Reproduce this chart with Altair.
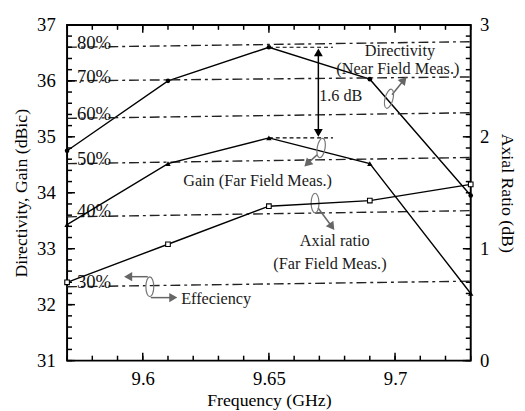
import altair as alt
import pandas as pd

# ---------------- data ----------------
freq = [9.57, 9.61, 9.65, 9.69, 9.73]
directivity = [34.75, 36.00, 36.60, 36.03, 33.95]
gain = [33.43, 34.52, 34.98, 34.52, 32.20]
axial_ratio = [0.70, 1.04, 1.38, 1.43, 1.575]

eff_labels = ["80%", "70%", "60%", "50%", "40%", "30%"]
eff_start = [36.60, 36.00, 35.33, 34.52, 33.57, 32.32]
eff_end = [36.70, 36.07, 35.43, 34.63, 33.68, 32.42]
eff_label_v = [36.683, 36.067, 35.408, 34.607, 33.674, 32.407]

x_tick_labels = [9.6, 9.65, 9.7]
left_tick_labels = [31, 32, 33, 34, 35, 36, 37]
right_tick_labels = [0, 1, 2, 3]

ann_text = ["Directivity", "(Near Field Meas.)", "1.6 dB", "Gain (Far Field Meas.)",
            "Axial ratio", "(Far Field Meas.)", "Effeciency"]
ann_f = [9.7019, 9.7011, 9.6785, 9.6455, 9.6761, 9.6742, 9.6291]
ann_v = [36.525, 36.208, 35.733, 34.202, 33.129, 32.724, 32.108]

# ---------------- layout / style ----------------
W, H = 410, 341
FONT = "'Liberation Serif', 'Times New Roman', Times, serif"
xs = alt.Scale(domain=[9.57, 9.73], nice=False, zero=False)
yl = alt.Scale(domain=[31, 37], nice=False, zero=False)
yr = alt.Scale(domain=[0, 3], nice=False, zero=False)
ELLIPSE = "M0,-1A0.4,1,0,1,1,0,1A0.4,1,0,1,1,0,-1Z"

series = pd.DataFrame({"f": freq, "d": directivity, "g": gain, "ar": axial_ratio})

x_axis = alt.Axis(values=x_tick_labels, format="~g", ticks=False, domain=False, grid=False,
                  labelFontSize=19, labelFont=FONT, labelColor="black", labelPadding=9,
                  title="Frequency (GHz)", titleFont=FONT, titleFontSize=18,
                  titleFontWeight="normal", titleColor="black", titlePadding=4)
yl_axis = alt.Axis(orient="left", values=left_tick_labels, format="d", ticks=False, domain=False,
                   grid=False, labelFontSize=19, labelFont=FONT, labelColor="black", labelPadding=12,
                   title="Directivity, Gain (dBic)", titleFont=FONT, titleFontSize=18,
                   titleFontWeight="normal", titleColor="black", titlePadding=6)
yr_axis = alt.Axis(orient="right", values=right_tick_labels, format="d", ticks=False,
                   domain=False, grid=False, labelFontSize=19, labelFont=FONT,
                   labelColor="black", labelPadding=9,
                   title="Axial Ratio (dB)", titleFont=FONT, titleFontSize=18,
                   titleFontWeight="normal", titleColor="black", titlePadding=9)


def X(fld="f"):
    return alt.X(f"{fld}:Q", scale=xs, axis=x_axis)


def YL(fld="v"):
    return alt.Y(f"{fld}:Q", scale=yl, axis=yl_axis)


def YR(fld="v"):
    return alt.Y(f"{fld}:Q", scale=yr, axis=yr_axis)


# efficiency dash-dot lines
eff_rows = []
for lab, a, b in zip(eff_labels, eff_start, eff_end):
    eff_rows.append({"lab": lab, "f": freq[0], "v": a})
    eff_rows.append({"lab": lab, "f": freq[-1], "v": b})
eff_df = pd.DataFrame(eff_rows)
eff_lines = alt.Chart(eff_df).mark_line(strokeDash=[10, 4, 3, 4], strokeWidth=1.4, color="#222").encode(
    x=X(), y=YL(), detail="lab:N")
eff_text = alt.Chart(pd.DataFrame({"lab": eff_labels, "v": eff_label_v, "f": [9.5739] * 6})).mark_text(
    align="left", baseline="middle", font=FONT, fontSize=19, color="#111").encode(
    x=X(), y=YL(), text="lab:N")

dir_line = alt.Chart(series).mark_line(color="black", strokeWidth=1.4).encode(x=X(), y=YL("d"))
dir_pts = alt.Chart(series).mark_point(shape="circle", filled=True, size=22, color="black", opacity=1).encode(
    x=X(), y=YL("d"))
gain_line = alt.Chart(series).mark_line(color="black", strokeWidth=1.4).encode(x=X(), y=YL("g"))
gain_pts = alt.Chart(series).mark_point(shape="triangle-up", filled=True, size=30, color="black", opacity=1).encode(
    x=X(), y=YL("g"))

# annotations
ann = alt.Chart(pd.DataFrame({"t": ann_text, "f": ann_f, "v": ann_v})).mark_text(
    font=FONT, fontSize=16.5, color="#1a1a1a", baseline="middle", align="center").encode(
    x=X(), y=YL(), text="t:N")

dash_df = pd.DataFrame({"f": [9.65, 9.65], "f2": [9.6754, 9.6754], "v": [36.6, 34.98]})
dashes = alt.Chart(dash_df).mark_rule(strokeDash=[4, 3], strokeWidth=1.2, color="black").encode(
    x=X(), x2="f2:Q", y=YL())

dbl = alt.Chart(pd.DataFrame({"f": [9.6696], "v": [36.52], "v2": [35.06]})).mark_rule(
    color="black", strokeWidth=1.5).encode(x=X(), y=YL(), y2="v2:Q")

arrow_df = pd.DataFrame({
    "f": [9.6988, 9.6691, 9.6695, 9.6020, 9.6032],
    "v": [35.751, 34.677, 33.727, 32.50, 32.126],
    "f2": [9.7035, 9.6652, 9.6750, 9.5942, 9.6121],
    "v2": [36.015, 34.519, 33.393, 32.50, 32.126],
})
arrow_lines = alt.Chart(arrow_df).mark_rule(color="#666", strokeWidth=1.5).encode(
    x=X(), y=YL(), x2="f2:Q", y2="v2:Q")

heads_df = pd.DataFrame({
    "f": [9.7035, 9.6652, 9.6750, 9.5942, 9.6121],
    "v": [36.015, 34.519, 33.393, 32.50, 32.126],
    "a": [40, 225, 144, 270, 90],
})
heads = alt.Chart(heads_df).mark_point(shape="triangle-up", filled=True, size=90, color="#666", opacity=1).encode(
    x=X(), y=YL(), angle=alt.Angle("a:Q", scale=None))
bheads_df = pd.DataFrame({"f": [9.6696, 9.6696], "v": [36.51, 35.07], "a": [0, 180]})
bheads = alt.Chart(bheads_df).mark_point(shape="triangle-up", filled=True, size=80, color="black", opacity=1).encode(
    x=X(), y=YL(), angle=alt.Angle("a:Q", scale=None))

ell_df = pd.DataFrame({"f": [9.6976, 9.6707, 9.6683, 9.6028],
                       "v": [35.68, 34.80, 33.815, 32.32],
                       "a": [15, 10, 0, 0]})
ellipses = alt.Chart(ell_df).mark_point(shape=ELLIPSE, size=400, filled=False, color="#777",
                                        strokeWidth=1.2, opacity=1).encode(
    x=X(), y=YL(), angle=alt.Angle("a:Q", scale=None))

# inward ticks
left_minor = [round(31 + 0.2 * i, 2) for i in range(31)]
right_minor = [round(0.1 * i, 2) for i in range(31)]
x_minor = [round(9.57 + 0.01 * i, 2) for i in range(17)]

lt_min = alt.Chart(pd.DataFrame({"v": left_minor})).mark_rule(color="black", strokeWidth=1.5).encode(
    y=YL(), x=alt.value(0), x2=alt.value(5))
lt_maj = alt.Chart(pd.DataFrame({"v": left_tick_labels})).mark_rule(color="black", strokeWidth=1.5).encode(
    y=YL(), x=alt.value(0), x2=alt.value(8))
bt_min = alt.Chart(pd.DataFrame({"f": x_minor})).mark_rule(color="black", strokeWidth=1.5).encode(
    x=X(), y=alt.value(H), y2=alt.value(H - 5))
bt_maj = alt.Chart(pd.DataFrame({"f": x_tick_labels})).mark_rule(color="black", strokeWidth=1.5).encode(
    x=X(), y=alt.value(H), y2=alt.value(H - 8))
tt_min = alt.Chart(pd.DataFrame({"f": x_minor})).mark_rule(color="black", strokeWidth=1.5).encode(
    x=X(), y=alt.value(0), y2=alt.value(5))
tt_maj = alt.Chart(pd.DataFrame({"f": x_tick_labels})).mark_rule(color="black", strokeWidth=1.5).encode(
    x=X(), y=alt.value(0), y2=alt.value(8))

left_group = alt.layer(
    dir_line, eff_lines, eff_text, gain_line, dashes, dbl, arrow_lines, ellipses, heads, bheads,
    dir_pts, gain_pts, ann, lt_min, lt_maj, bt_min, bt_maj, tt_min, tt_maj)

ar_line = alt.Chart(series).mark_line(color="black", strokeWidth=1.4).encode(x=X(), y=YR("ar"))
ar_pts = alt.Chart(series).mark_point(shape="square", filled=True, fill="white", stroke="black",
                                      strokeWidth=1.1, size=22, opacity=1).encode(x=X(), y=YR("ar"))
rt_min = alt.Chart(pd.DataFrame({"v": right_minor})).mark_rule(color="black", strokeWidth=1.5).encode(
    y=YR(), x=alt.value(W), x2=alt.value(W - 5))
rt_maj = alt.Chart(pd.DataFrame({"v": right_tick_labels})).mark_rule(color="black", strokeWidth=1.5).encode(
    y=YR(), x=alt.value(W), x2=alt.value(W - 8))

right_group = alt.layer(ar_line, ar_pts, rt_min, rt_maj)

chart = alt.layer(left_group, right_group).resolve_scale(y="independent").properties(
    width=W, height=H,
    padding={"left": 60, "top": 14, "right": 47, "bottom": 48},
    autosize=alt.AutoSizeParams(type="none"),
    background="white",
).configure_view(stroke="black", strokeWidth=2)

chart.save("out.html", embed_options={"renderer": "svg", "actions": False})
